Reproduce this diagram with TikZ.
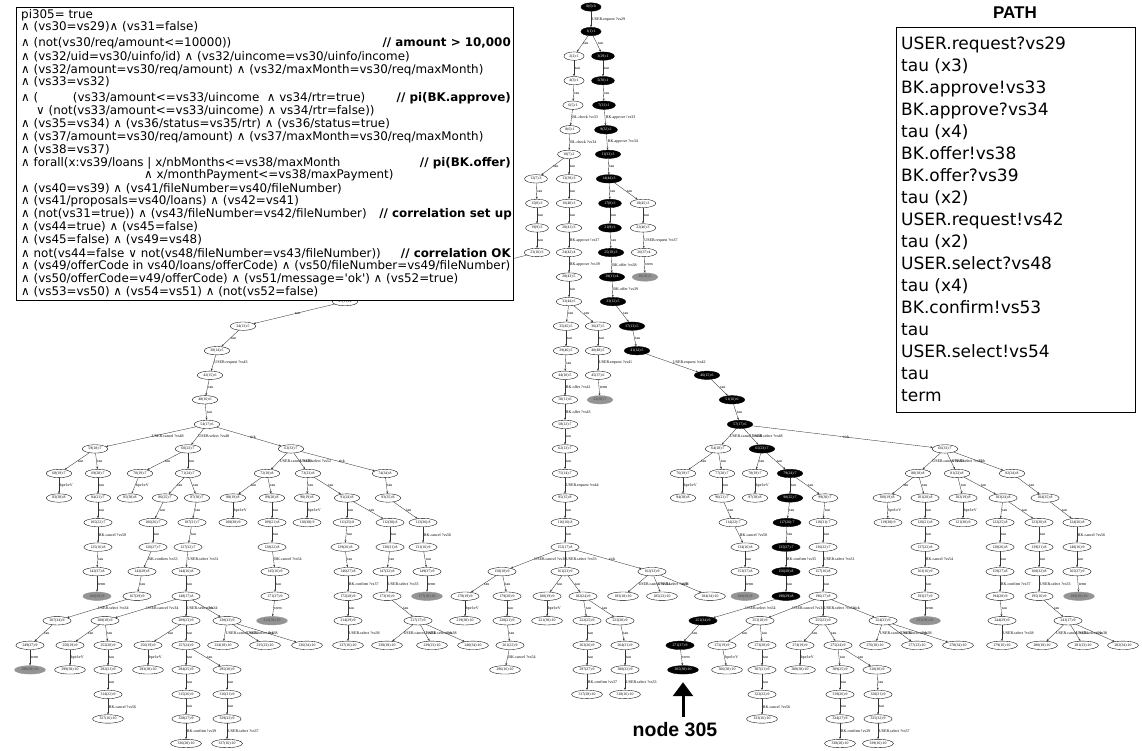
\documentclass[tikz,border=0pt]{standalone}
\usepackage{fontspec}
\setmainfont{Liberation Serif}
\newfontfamily\dv{DejaVu Sans}
\newfontfamily\lsans{Liberation Sans}
\usetikzlibrary{shapes.geometric,arrows.meta}
\newcommand\Nd[5]{\node[tn,#5] (n#1) at (#2,{7+24.55*#3}) {#4};}
\newcommand\Ed[3]{\draw[te] (n#1) -- node[tl]{#3} (n#2);}
\begin{document}
\begin{tikzpicture}[x=1pt,y=-1pt,
  tn/.style={ellipse, draw=black, line width=0.35pt, inner xsep=2.5pt, inner ysep=0.5pt, minimum height=8.4pt, font=\fontsize{3.8}{4}\selectfont, fill=white},
  blkn/.style={fill=black, text=white},
  gryn/.style={fill=black!42, draw=black!42, text=black!75},
  whn/.style={},
  te/.style={draw=black!80, line width=0.35pt, -{Stealth[length=2.4pt,width=1.9pt]}},
  tl/.style={anchor=west, inner sep=0.8pt, font=\fontsize{4}{4}\selectfont, pos=0.5},
  fl/.style={anchor=west, inner sep=0pt, font=\dv\fontsize{11.9}{13}\selectfont, text height=8.5pt, text depth=2.5pt},
  cmt/.style={anchor=east, inner sep=0pt, font=\dv\bfseries\fontsize{11.9}{13}\selectfont, text height=8.5pt, text depth=2.5pt},
  pl/.style={anchor=west, inner sep=0pt, font=\dv\fontsize{17}{20}\selectfont, text height=12pt, text depth=3.5pt},
  bigbox/.style={draw=black, line width=1.2pt, fill=white, inner sep=0pt, anchor=north west}
]
\useasboundingbox (0,0) rectangle (1142,750);
% ---------------- tree nodes ----------------
\Nd{0}{591}{0}{0(0):0}{blkn}
\Nd{1}{591}{1}{1(1):1}{blkn}
\Nd{2}{574}{2}{2(2):1}{whn} \Nd{3}{603}{2}{3(29):1}{blkn}
\Nd{4}{574}{3}{4(3):1}{whn} \Nd{5}{603}{3}{5(30):1}{blkn}
\Nd{6}{573}{4}{6(5):1}{whn} \Nd{7}{604}{4}{7(31):1}{blkn}
\Nd{8}{570}{5}{8(6):1}{whn} \Nd{9}{606}{5}{9(32):2}{blkn}
\Nd{10}{569}{6}{10(7):2}{whn} \Nd{11}{608}{6}{11(33):3}{blkn}
\Nd{12}{536}{7}{12(7):3}{whn} \Nd{13}{569}{7}{13(39):3}{whn} \Nd{14}{609}{7}{14(44):3}{blkn}
\Nd{15}{537}{8}{15(8):3}{whn} \Nd{16}{569}{8}{16(40):3}{whn} \Nd{17}{610}{8}{17(8):3}{blkn} \Nd{18}{643}{8}{18(45):3}{whn}
\Nd{19}{537}{9}{19(9):3}{whn} \Nd{20}{569}{9}{20(41):3}{whn} \Nd{21}{610}{9}{21(9):3}{blkn} \Nd{22}{643}{9}{22(46):3}{whn}
\Nd{23}{537}{10}{23(10):3}{whn} \Nd{24}{569}{10}{24(42):4}{whn} \Nd{25}{611}{10}{25(10):3}{blkn} \Nd{26}{644}{10}{26(37):4}{whn}
\Nd{28}{569}{11}{28(43):5}{whn} \Nd{29}{612}{11}{29(11):4}{blkn} \Nd{30}{645}{11}{30(38):5}{gryn}
\Nd{27}{345}{12}{27(11):4}{whn} \Nd{32}{569}{12}{32(44):5}{whn} \Nd{33}{613}{12}{33(12):5}{blkn}
\Nd{34}{243}{13}{34(13):5}{whn} \Nd{35}{566}{13}{35(45):5}{whn} \Nd{36}{598}{13}{36(47):5}{whn} \Nd{37}{632}{13}{37(13):5}{blkn}
\Nd{38}{217}{14}{38(14):5}{whn} \Nd{39}{566}{14}{39(46):5}{whn} \Nd{40}{598}{14}{40(48):5}{whn} \Nd{41}{637}{14}{41(14):5}{blkn}
\Nd{42}{210}{15}{42(15):6}{whn} \Nd{44}{565}{15}{44(10):5}{whn} \Nd{45}{598}{15}{45(37):6}{whn} \Nd{46}{707}{15}{46(15):6}{blkn}
\Nd{48}{205}{16}{48(16):6}{whn} \Nd{50}{565}{16}{50(11):6}{whn} \Nd{52}{600}{16}{52(38):7}{gryn} \Nd{51}{732}{16}{51(16):6}{blkn}
\Nd{54}{207}{17}{54(17):6}{whn} \Nd{58}{565}{17}{58(12):7}{whn} \Nd{57}{740}{17}{57(17):6}{blkn}
\Nd{59}{95}{18}{59(18):7}{whn} \Nd{60}{188}{18}{60(23):7}{whn} \Nd{63}{291}{18}{63(33):7}{whn} \Nd{62}{565}{18}{62(13):7}{whn}
\Nd{64}{718}{18}{64(18):7}{whn} \Nd{65}{762}{18}{65(23):7}{blkn} \Nd{66}{945}{18}{66(33):7}{whn}
% r19
\Nd{68}{59}{19}{68(19):7}{whn} \Nd{69}{98}{19}{69(20):7}{whn} \Nd{70}{140}{19}{70(19):7}{whn} \Nd{71}{188}{19}{71(24):7}{whn}
\Nd{72}{267}{19}{72(18):8}{whn} \Nd{73}{308}{19}{73(23):8}{whn} \Nd{74}{385}{19}{74(34):8}{whn} \Nd{75}{565}{19}{75(14):7}{whn}
\Nd{76}{683}{19}{76(19):7}{whn} \Nd{77}{722}{19}{77(20):7}{whn} \Nd{78}{755}{19}{78(19):7}{whn} \Nd{79}{790}{19}{79(24):7}{blkn}
\Nd{80}{918}{19}{80(18):8}{whn} \Nd{81}{957}{19}{81(23):8}{whn} \Nd{82}{1012}{19}{82(34):8}{whn}
% r20
\Nd{83}{59}{20}{83(38):8}{whn} \Nd{84}{98}{20}{84(21):7}{whn} \Nd{85}{130}{20}{85(38):8}{whn} \Nd{86}{165}{20}{86(25):7}{whn}
\Nd{87}{197}{20}{87(30):7}{whn} \Nd{88}{233}{20}{88(19):8}{whn} \Nd{89}{272}{20}{89(20):8}{whn} \Nd{90}{307}{20}{90(19):8}{whn}
\Nd{91}{347}{20}{91(24):8}{whn} \Nd{93}{388}{20}{93(35):8}{whn} \Nd{95}{565}{20}{95(15):8}{whn} \Nd{94}{683}{20}{94(38):8}{whn}
\Nd{96}{722}{20}{96(21):7}{whn} \Nd{97}{755}{20}{97(38):8}{whn} \Nd{98}{790}{20}{98(25):7}{blkn} \Nd{99}{825}{20}{99(30):7}{whn}
\Nd{100}{887}{20}{100(19):8}{whn} \Nd{101}{925}{20}{101(20):8}{whn} \Nd{102}{963}{20}{102(19):8}{whn} \Nd{103}{1003}{20}{103(24):8}{whn}
\Nd{104}{1045}{20}{104(35):8}{whn}
% r21
\Nd{105}{98}{21}{105(22):7}{whn} \Nd{106}{153}{21}{106(26):7}{whn} \Nd{107}{192}{21}{107(31):7}{whn} \Nd{108}{233}{21}{108(38):9}{whn}
\Nd{109}{272}{21}{109(21):8}{whn} \Nd{110}{307}{21}{110(38):9}{whn} \Nd{111}{347}{21}{111(25):8}{whn} \Nd{112}{390}{21}{112(30):8}{whn}
\Nd{113}{423}{21}{113(36):8}{whn} \Nd{116}{565}{21}{116(16):8}{whn} \Nd{114}{733}{21}{114(22):7}{whn} \Nd{117}{787}{21}{117(26):7}{blkn}
\Nd{118}{823}{21}{118(31):7}{whn} \Nd{119}{888}{21}{119(38):9}{whn} \Nd{120}{925}{21}{120(21):8}{whn} \Nd{121}{963}{21}{121(38):9}{whn}
\Nd{122}{1000}{21}{122(25):8}{whn} \Nd{123}{1039}{21}{123(30):8}{whn} \Nd{124}{1077}{21}{124(36):8}{whn}
% r22
\Nd{125}{98}{22}{125(16):8}{whn} \Nd{126}{153}{22}{126(27):7}{whn} \Nd{127}{188}{22}{127(32):7}{whn} \Nd{128}{272}{22}{128(22):8}{whn}
\Nd{129}{345}{22}{129(26):8}{whn} \Nd{130}{390}{22}{130(31):8}{whn} \Nd{131}{423}{22}{131(16):9}{whn} \Nd{152}{565}{22}{152(17):8}{whn}
\Nd{134}{745}{22}{134(16):8}{whn} \Nd{135}{786}{22}{135(27):7}{blkn} \Nd{136}{823}{22}{136(32):7}{whn} \Nd{137}{925}{22}{137(22):8}{whn}
\Nd{138}{1000}{22}{138(26):8}{whn} \Nd{139}{1039}{22}{139(31):8}{whn} \Nd{140}{1077}{22}{140(16):9}{whn}
% r23
\Nd{142}{97}{23}{142(37):8}{whn} \Nd{143}{142}{23}{143(28):8}{whn} \Nd{144}{186}{23}{144(16):8}{whn} \Nd{145}{275}{23}{145(16):9}{whn}
\Nd{146}{348}{23}{146(27):8}{whn} \Nd{147}{387}{23}{147(32):8}{whn} \Nd{149}{427}{23}{149(37):9}{whn} \Nd{158}{502}{23}{158(18):9}{whn}
\Nd{161}{565}{23}{161(23):9}{whn} \Nd{162}{652}{23}{162(33):9}{whn} \Nd{153}{745}{23}{153(37):8}{whn} \Nd{156}{786}{23}{156(28):8}{blkn}
\Nd{157}{823}{23}{157(16):8}{whn} \Nd{163}{925}{23}{163(16):9}{whn} \Nd{159}{1000}{23}{159(27):8}{whn} \Nd{160}{1039}{23}{160(32):8}{whn}
\Nd{165}{1077}{23}{165(37):9}{whn}
% r24
\Nd{166}{97}{24}{166(38):9}{gryn} \Nd{167}{137}{24}{167(29):9}{whn} \Nd{148}{186}{24}{148(17):8}{whn} \Nd{171}{275}{24}{171(37):9}{whn}
\Nd{172}{348}{24}{172(28):9}{whn} \Nd{173}{387}{24}{173(16):9}{whn} \Nd{177}{427}{24}{177(38):10}{gryn} \Nd{178}{465}{24}{178(19):9}{whn}
\Nd{179}{507}{24}{179(20):9}{whn} \Nd{180}{547}{24}{180(19):9}{whn} \Nd{182}{583}{24}{182(24):9}{whn} \Nd{183}{623}{24}{183(18):10}{whn}
\Nd{185}{662}{24}{185(23):10}{whn} \Nd{184}{710}{24}{184(34):10}{whn} \Nd{189}{745}{24}{189(38):9}{gryn} \Nd{190}{786}{24}{190(29):8}{blkn}
\Nd{196}{823}{24}{196(17):8}{whn} \Nd{193}{925}{24}{193(37):9}{whn} \Nd{194}{1000}{24}{194(28):9}{whn} \Nd{195}{1039}{24}{195(16):9}{whn}
\Nd{199}{1079}{24}{199(38):10}{gryn}
% r25
\Nd{207}{57}{25}{207(34):9}{whn} \Nd{208}{105}{25}{208(18):9}{whn} \Nd{209}{186}{25}{209(23):9}{whn} \Nd{230}{227}{25}{230(33):9}{whn}
\Nd{213}{272}{25}{213(38):10}{gryn} \Nd{214}{348}{25}{214(29):9}{whn} \Nd{217}{418}{25}{217(17):9}{whn} \Nd{219}{465}{25}{219(38):10}{whn}
\Nd{220}{507}{25}{220(21):9}{whn} \Nd{221}{547}{25}{221(38):10}{whn} \Nd{222}{587}{25}{222(25):9}{whn} \Nd{223}{620}{25}{223(30):9}{whn}
\Nd{251}{703}{25}{251(34):9}{blkn} \Nd{253}{760}{25}{253(18):9}{whn} \Nd{255}{823}{25}{255(23):9}{whn} \Nd{254}{883}{25}{254(33):9}{whn}
\Nd{233}{925}{25}{233(38):10}{gryn} \Nd{244}{1002}{25}{244(29):9}{whn} \Nd{241}{1068}{25}{241(17):9}{whn}
% r26
\Nd{249}{30}{26}{249(37):9}{whn} \Nd{250}{70}{26}{250(19):9}{whn} \Nd{252}{108}{26}{252(20):9}{whn} \Nd{256}{148}{26}{256(19):9}{whn}
\Nd{257}{186}{26}{257(24):9}{whn} \Nd{234}{223}{26}{234(18):10}{whn} \Nd{235}{265}{26}{235(23):10}{whn} \Nd{236}{307}{26}{236(34):10}{whn}
\Nd{237}{348}{26}{237(16):10}{whn} \Nd{238}{387}{26}{238(18):10}{whn} \Nd{239}{432}{26}{239(23):10}{whn} \Nd{240}{473}{26}{240(34):10}{whn}
\Nd{261}{510}{26}{261(22):9}{whn} \Nd{263}{587}{26}{263(26):9}{whn} \Nd{264}{625}{26}{264(31):9}{whn} \Nd{271}{680}{26}{271(37):9}{blkn}
\Nd{272}{722}{26}{272(19):9}{whn} \Nd{273}{762}{26}{273(20):9}{whn} \Nd{274}{800}{26}{274(19):9}{whn} \Nd{275}{838}{26}{275(24):9}{whn}
\Nd{276}{875}{26}{276(18):10}{whn} \Nd{277}{917}{26}{277(23):10}{whn} \Nd{278}{958}{26}{278(34):10}{whn} \Nd{279}{1002}{26}{279(16):10}{whn}
\Nd{280}{1042}{26}{280(18):10}{whn} \Nd{281}{1083}{26}{281(23):10}{whn} \Nd{282}{1123}{26}{282(34):10}{whn}
% r27
\Nd{298}{30}{27}{298(38):10}{gryn} \Nd{299}{70}{27}{299(38):10}{whn} \Nd{292}{108}{27}{292(21):9}{whn} \Nd{293}{148}{27}{293(38):10}{whn}
\Nd{294}{186}{27}{294(25):9}{whn} \Nd{295}{227}{27}{295(30):9}{whn} \Nd{296}{505}{27}{296(16):10}{whn} \Nd{297}{587}{27}{297(27):9}{whn}
\Nd{300}{625}{27}{300(32):9}{whn} \Nd{305}{683}{27}{305(38):10}{blkn} \Nd{306}{727}{27}{306(38):10}{whn} \Nd{307}{762}{27}{307(21):9}{whn}
\Nd{308}{800}{27}{308(38):10}{whn} \Nd{309}{840}{27}{309(25):9}{whn} \Nd{310}{877}{27}{310(30):9}{whn}
% r28
\Nd{314}{108}{28}{314(22):9}{whn} \Nd{315}{186}{28}{315(26):9}{whn} \Nd{316}{227}{28}{316(31):9}{whn} \Nd{317}{587}{28}{317(28):10}{whn}
\Nd{318}{625}{28}{318(16):10}{whn} \Nd{323}{762}{28}{323(22):9}{whn} \Nd{319}{840}{28}{319(26):9}{whn} \Nd{320}{878}{28}{320(31):9}{whn}
% r29
\Nd{327}{108}{29}{327(16):10}{whn} \Nd{328}{186}{29}{328(27):9}{whn} \Nd{329}{227}{29}{329(32):9}{whn} \Nd{333}{762}{29}{333(16):10}{whn}
\Nd{334}{840}{29}{334(27):9}{whn} \Nd{335}{878}{29}{335(32):9}{whn}
% r30
\Nd{336}{186}{30}{336(28):10}{whn} \Nd{337}{227}{30}{337(16):10}{whn} \Nd{338}{840}{30}{338(28):10}{whn} \Nd{339}{878}{30}{339(16):10}{whn}
% ---------------- tree edges ----------------
\Ed{0}{1}{USER.request ?vs29}
\Ed{1}{2}{tau} \Ed{1}{3}{tau} \Ed{2}{4}{tau} \Ed{3}{5}{tau} \Ed{4}{6}{tau} \Ed{5}{7}{tau}
\Ed{6}{8}{BL.check !vs33} \Ed{7}{9}{BK.approve !vs33}
\Ed{8}{10}{BL.check ?vs34} \Ed{9}{11}{BK.approve ?vs34}
\Ed{10}{12}{tau} \Ed{10}{13}{tau} \Ed{11}{14}{tau}
\Ed{12}{15}{tau} \Ed{13}{16}{tau} \Ed{14}{17}{tau} \Ed{14}{18}{tau}
\Ed{15}{19}{tau} \Ed{16}{20}{tau} \Ed{17}{21}{tau} \Ed{18}{22}{tau}
\Ed{19}{23}{tau} \Ed{20}{24}{BK.approve !vs37} \Ed{21}{25}{tau} \Ed{22}{26}{USER.request ?vs37}
\Ed{24}{28}{BK.approve ?vs39} \Ed{25}{29}{BK.offer !vs38} \Ed{26}{30}{term}
\draw[te] (n23) -- (n27);
\Ed{28}{32}{tau} \Ed{29}{33}{BK.offer ?vs39}
\Ed{27}{34}{tau} \Ed{32}{35}{tau} \Ed{32}{36}{tau} \Ed{33}{37}{tau}
\Ed{34}{38}{tau} \Ed{35}{39}{tau} \Ed{36}{40}{tau} \Ed{37}{41}{tau}
\Ed{38}{42}{USER.request ?vs43} \Ed{39}{44}{tau} \Ed{40}{45}{USER.request ?vs41} \Ed{41}{46}{USER.request !vs42}
\Ed{42}{48}{tau} \Ed{44}{50}{BK.offer ?vs41} \Ed{45}{52}{term} \Ed{46}{51}{tau}
\Ed{48}{54}{tau} \Ed{50}{58}{BK.offer ?vs43} \Ed{51}{57}{tau}
\Ed{54}{59}{USER.cancel ?vs48} \Ed{54}{60}{USER.select ?vs48} \Ed{54}{63}{tick} \Ed{58}{62}{tau}
\Ed{57}{64}{USER.cancel ?vs48} \Ed{57}{65}{USER.select ?vs48} \Ed{57}{66}{tick}
\Ed{59}{68}{tau} \Ed{59}{69}{tau} \Ed{60}{70}{tau} \Ed{60}{71}{tau}
\Ed{63}{72}{USER.cancel ?vs50} \Ed{63}{73}{USER.select ?vs52} \Ed{63}{74}{tick} \Ed{62}{75}{tau}
\Ed{64}{76}{tau} \Ed{64}{77}{tau} \Ed{65}{78}{tau} \Ed{65}{79}{tau}
\Ed{66}{80}{USER.cancel ?vs50} \Ed{66}{81}{USER.select ?vs52} \Ed{66}{82}{tick}
\Ed{68}{83}{bpel:eV} \Ed{69}{84}{tau} \Ed{70}{85}{bpel:eV} \Ed{71}{86}{tau} \Ed{71}{87}{tau}
\Ed{72}{88}{tau} \Ed{72}{89}{tau} \Ed{73}{90}{tau} \Ed{73}{91}{tau} \Ed{74}{93}{tau} \Ed{75}{95}{USER.request !vs44}
\Ed{76}{94}{bpel:eV} \Ed{77}{96}{tau} \Ed{78}{97}{bpel:eV} \Ed{79}{98}{tau} \Ed{79}{99}{tau}
\Ed{80}{100}{tau} \Ed{80}{101}{tau} \Ed{81}{102}{tau} \Ed{81}{103}{tau} \Ed{82}{104}{tau}
\Ed{84}{105}{tau} \Ed{86}{106}{tau} \Ed{87}{107}{tau} \Ed{88}{108}{bpel:eV} \Ed{89}{109}{tau} \Ed{90}{110}{bpel:eV}
\Ed{91}{111}{tau} \Ed{91}{112}{tau} \Ed{93}{113}{tau} \Ed{95}{116}{tau} \Ed{96}{114}{tau} \Ed{98}{117}{tau} \Ed{99}{118}{tau}
\Ed{100}{119}{bpel:eV} \Ed{101}{120}{tau} \Ed{102}{121}{bpel:eV} \Ed{103}{122}{tau} \Ed{103}{123}{tau} \Ed{104}{124}{tau}
\Ed{105}{125}{BK.cancel ?vs50} \Ed{106}{126}{tau} \Ed{107}{127}{tau} \Ed{109}{128}{tau} \Ed{111}{129}{tau} \Ed{112}{130}{tau}
\Ed{113}{131}{BK.cancel ?vs56} \Ed{116}{152}{tau} \Ed{114}{134}{BK.cancel ?vs50} \Ed{117}{135}{tau} \Ed{118}{136}{tau}
\Ed{120}{137}{tau} \Ed{122}{138}{tau} \Ed{123}{139}{tau} \Ed{124}{140}{BK.cancel ?vs56}
\Ed{125}{142}{tau} \Ed{126}{143}{BK.confirm !vs33} \Ed{127}{144}{USER.select ?vs31} \Ed{128}{145}{BK.cancel ?vs54}
\Ed{129}{146}{tau} \Ed{130}{147}{tau} \Ed{131}{149}{tau}
\Ed{152}{158}{USER.cancel ?vs38} \Ed{152}{161}{USER.select ?vs33} \Ed{152}{162}{tick}
\Ed{134}{153}{tau} \Ed{135}{156}{BK.confirm !vs35} \Ed{136}{157}{USER.select ?vs31} \Ed{137}{163}{BK.cancel ?vs54}
\Ed{138}{159}{tau} \Ed{139}{160}{tau} \Ed{140}{165}{tau}
\Ed{142}{166}{term} \Ed{143}{167}{tau} \Ed{144}{148}{tau} \Ed{145}{171}{tau} \Ed{146}{172}{BK.confirm ?vs37}
\Ed{147}{173}{USER.select ?vs33} \Ed{149}{177}{term} \Ed{158}{178}{tau} \Ed{158}{179}{tau} \Ed{161}{180}{tau} \Ed{161}{182}{tau}
\Ed{162}{183}{USER.cancel ?vs34} \Ed{162}{185}{USER.select ?vs38} \Ed{162}{184}{tick}
\Ed{153}{189}{term} \Ed{156}{190}{tau} \Ed{157}{196}{tau} \Ed{163}{193}{tau} \Ed{159}{194}{BK.confirm ?vs37}
\Ed{160}{195}{USER.select ?vs33} \Ed{165}{199}{term}
\Ed{167}{207}{USER.select ?vs34} \Ed{148}{208}{USER.cancel ?vs34} \Ed{148}{209}{USER.select ?vs34} \Ed{148}{230}{tick}
\Ed{171}{213}{term} \Ed{172}{214}{tau} \Ed{173}{217}{tau} \Ed{178}{219}{bpel:eV} \Ed{179}{220}{tau} \Ed{180}{221}{bpel:eV}
\Ed{182}{222}{tau} \Ed{182}{223}{tau} \Ed{190}{251}{USER.select !vs54}
\Ed{196}{253}{USER.cancel ?vs34} \Ed{196}{255}{USER.select ?vs34} \Ed{196}{254}{tick}
\Ed{193}{233}{term} \Ed{194}{244}{tau} \Ed{195}{241}{tau}
\Ed{207}{249}{tau} \Ed{208}{250}{tau} \Ed{208}{252}{tau} \Ed{209}{256}{tau} \Ed{209}{257}{tau}
\Ed{230}{234}{USER.cancel ?vs34} \Ed{230}{235}{USER.select ?vs38} \Ed{230}{236}{tick} \Ed{214}{237}{USER.select ?vs38}
\Ed{217}{238}{USER.cancel ?vs34} \Ed{217}{239}{USER.select ?vs38} \Ed{217}{240}{tick}
\Ed{220}{261}{tau} \Ed{222}{263}{tau} \Ed{223}{264}{tau} \Ed{251}{271}{tau}
\Ed{253}{272}{tau} \Ed{253}{273}{tau} \Ed{255}{274}{tau} \Ed{255}{275}{tau}
\Ed{254}{276}{USER.cancel ?vs34} \Ed{254}{277}{USER.select ?vs38} \Ed{254}{278}{tick} \Ed{244}{279}{USER.select ?vs38}
\Ed{241}{280}{USER.cancel ?vs34} \Ed{241}{281}{USER.select ?vs38} \Ed{241}{282}{tick}
\Ed{249}{298}{term} \Ed{250}{299}{bpel:eV} \Ed{252}{292}{tau} \Ed{256}{293}{bpel:eV} \Ed{257}{294}{tau} \Ed{257}{295}{tau}
\Ed{261}{296}{BK.cancel ?vs54} \Ed{263}{297}{tau} \Ed{264}{300}{tau} \Ed{271}{305}{term}
\Ed{272}{306}{bpel:eV} \Ed{273}{307}{tau} \Ed{274}{308}{bpel:eV} \Ed{275}{309}{tau} \Ed{275}{310}{tau}
\Ed{292}{314}{tau} \Ed{294}{315}{tau} \Ed{295}{316}{tau} \Ed{297}{317}{BK.confirm !vs37} \Ed{300}{318}{USER.select ?vs33}
\Ed{307}{323}{tau} \Ed{309}{319}{tau} \Ed{310}{320}{tau}
\Ed{314}{327}{BK.cancel ?vs56} \Ed{315}{328}{tau} \Ed{316}{329}{tau} \Ed{323}{333}{BK.cancel ?vs56} \Ed{319}{334}{tau} \Ed{320}{335}{tau}
\Ed{328}{336}{BK.confirm !vs39} \Ed{329}{337}{USER.select ?vs37} \Ed{334}{338}{BK.confirm !vs39} \Ed{335}{339}{USER.select ?vs37}
% ---------------- formula box ----------------
\node[bigbox, minimum width=497pt, minimum height=293pt] (fbox) at (16,7) {};
\node[fl] (f1) at (21,15) {pi305= true};
\node[fl] (f2) at (21,27.3) {∧ (vs30=vs29)∧ (vs31=false)};
\node[fl] (f3) at (21,43.3) {∧ (not(vs30/req/amount<=10000))};
\node[cmt] (c3) at (511,43.3) {// amount > 10,000};
\node[fl] (f4) at (21,57.3) {∧ (vs32/uid=vs30/uinfo/id) ∧ (vs32/uincome=vs30/uinfo/income)};
\node[fl] (f5) at (21,70) {∧ (vs32/amount=vs30/req/amount) ∧ (vs32/maxMonth=vs30/req/maxMonth)};
\node[fl] (f6) at (21,82.7) {∧ (vs33=vs32)};
\node[fl] (f7) at (21,98.3) {∧ (};
\node[fl] (f7b) at (72.7,98.3) {(vs33/amount<=vs33/uincome \ ∧ vs34/rtr=true)};
\node[cmt] (c7) at (511,98.3) {// pi(BK.approve)};
\node[fl] (f8) at (36,111.7) {∨ (not(vs33/amount<=vs33/uincome) ∧ vs34/rtr=false))};
\node[fl] (f9) at (21,124.3) {∧ (vs35=vs34) ∧ (vs36/status=vs35/rtr) ∧ (vs36/status=true)};
\node[fl] (f10) at (21,137.3) {∧ (vs37/amount=vs30/req/amount) ∧ (vs37/maxMonth=vs30/req/maxMonth)};
\node[fl] (f11) at (21,150) {∧ (vs38=vs37)};
\node[fl] (f12) at (21,163.3) {∧ forall(x:vs39/loans | x/nbMonths<=vs38/maxMonth};
\node[cmt] (c12) at (511,163.3) {// pi(BK.offer)};
\node[fl] (f13) at (144,175.7) {∧ x/monthPayment<=vs38/maxPayment)};
\node[fl] (f14) at (21,189.3) {∧ (vs40=vs39) ∧ (vs41/fileNumber=vs40/fileNumber)};
\node[fl] (f15) at (21,201.7) {∧ (vs41/proposals=vs40/loans) ∧ (vs42=vs41)};
\node[fl] (f16) at (21,214.3) {∧ (not(vs31=true)) ∧ (vs43/fileNumber=vs42/fileNumber)};
\node[cmt] (c16) at (512,214.3) {// correlation set up};
\node[fl] (f17) at (21,227.7) {∧ (vs44=true) ∧ (vs45=false)};
\node[fl] (f18) at (21,240) {∧ (vs45=false) ∧ (vs49=vs48)};
\node[fl] (f19) at (21,254) {∧ not(vs44=false ∨ not(vs48/fileNumber=vs43/fileNumber))};
\node[cmt] (c19) at (511,254) {// correlation OK};
\node[fl] (f20) at (21,266.7) {∧ (vs49/offerCode in vs40/loans/offerCode) ∧ (vs50/fileNumber=vs49/fileNumber)};
\node[fl] (f21) at (21,279.3) {∧ (vs50/offerCode=v49/offerCode) ∧ (vs51/message='ok') ∧ (vs52=true)};
\node[fl] (f22) at (21,292.7) {∧ (vs53=vs50) ∧ (vs54=vs51) ∧ (not(vs52=false)};
% ---------------- PATH box ----------------
\node[font=\lsans\bfseries\fontsize{17}{20}\selectfont, inner sep=0pt] (ptitle) at (1015,13) {PATH};
\node[bigbox, minimum width=239pt, minimum height=385pt] (pbox) at (896,27) {};
\foreach \t [count=\i from 0] in {USER.request?vs29, tau (x3), BK.approve!vs33, BK.approve?vs34, tau (x4), BK.offer!vs38, BK.offer?vs39, tau (x2), USER.request!vs42, tau (x2), USER.select?vs48, tau (x4), BK.confirm!vs53, tau, USER.select!vs54, tau, term}
  \node[pl] (p\i) at (901,{45+22*\i}) {\t};
% ---------------- node 305 marker ----------------
\node[font=\lsans\bfseries\fontsize{19.5}{22}\selectfont, inner sep=0pt] (lbl305) at (675,730) {node 305};
\draw[line width=3pt, -{Triangle[width=20pt,length=14pt]}, shorten <=6pt] (lbl305.north -| n305.south) -- ([yshift=-8pt]n305.south);
\end{tikzpicture}
\end{document}
